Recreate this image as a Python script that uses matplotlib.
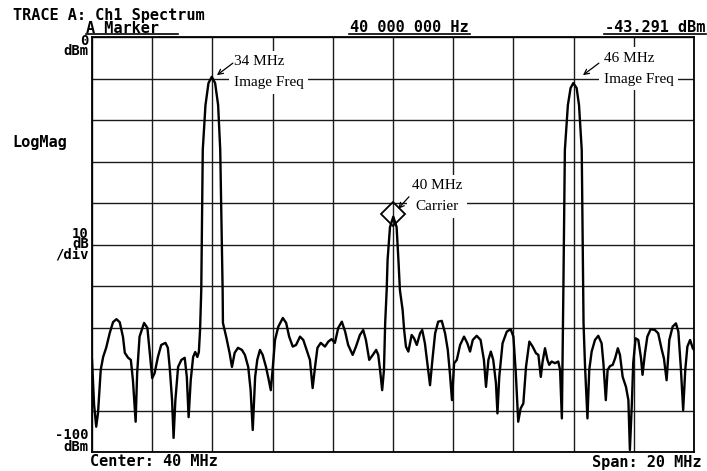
import numpy as np
import matplotlib.pyplot as plt
from matplotlib.lines import Line2D

#Spectrum analyzer trace A (MHz, dBm)
freq_mhz = [30.00, 30.03, 30.07, 30.14, 30.20, 30.29, 30.37, 30.47, 30.59, 30.70,
            30.81, 30.92, 31.03, 31.09, 31.20, 31.29, 31.36, 31.45, 31.50, 31.58,
            31.73, 31.84, 31.92, 32.00, 32.08, 32.19, 32.30, 32.44, 32.52, 32.58,
            32.66, 32.71, 32.77, 32.86, 32.97, 33.08, 33.15, 33.21, 33.28, 33.36,
            33.43, 33.50, 33.55, 33.59, 33.63, 33.68, 33.77, 33.87, 33.98, 34.09,
            34.19, 34.26, 34.34, 34.35, 34.46, 34.57, 34.65, 34.74, 34.85, 34.98,
            35.08, 35.19, 35.27, 35.34, 35.42, 35.49, 35.58, 35.67, 35.78, 35.86,
            35.94, 36.00, 36.08, 36.19, 36.34, 36.45, 36.55, 36.67, 36.78, 36.91,
            37.02, 37.13, 37.24, 37.33, 37.41, 37.49, 37.60, 37.74, 37.85, 37.96,
            38.07, 38.18, 38.30, 38.41, 38.51, 38.66, 38.77, 38.90, 39.01, 39.10,
            39.21, 39.33, 39.44, 39.51, 39.57, 39.64, 39.70, 39.74, 39.79, 39.82,
            39.90, 40.01, 40.12, 40.18, 40.23, 40.32, 40.37, 40.43, 40.51, 40.62,
            40.70, 40.79, 40.90, 40.97, 41.06, 41.14, 41.23, 41.32, 41.40, 41.50,
            41.62, 41.73, 41.82, 41.89, 41.96, 42.03, 42.12, 42.23, 42.36, 42.47,
            42.56, 42.65, 42.78, 42.91, 43.02, 43.09, 43.17, 43.25, 43.33, 43.42,
            43.47, 43.53, 43.64, 43.78, 43.91, 44.00, 44.08, 44.16, 44.24, 44.33,
            44.42, 44.53, 44.64, 44.75, 44.83, 44.91, 44.97, 45.05, 45.13, 45.19,
            45.27, 45.38, 45.49, 45.55, 45.61, 45.66, 45.71, 45.81, 45.90, 45.99,
            46.10, 46.18, 46.27, 46.32, 46.33, 46.38, 46.46, 46.52, 46.60, 46.71,
            46.82, 46.93, 46.99, 47.07, 47.13, 47.21, 47.30, 47.38, 47.47, 47.54,
            47.63, 47.74, 47.82, 47.87, 47.94, 47.98, 48.06, 48.15, 48.24, 48.29,
            48.37, 48.45, 48.56, 48.70, 48.81, 48.93, 49.00, 49.09, 49.18, 49.29,
            49.40, 49.48, 49.56, 49.64, 49.71, 49.78, 49.87, 49.96, 50.00]

level_dbm = [-77.8, -82.7, -88.7, -93.9, -90.6, -80.2, -77.1, -74.9, -71.3, -68.7,
             -68.0, -68.7, -72.3, -76.1, -77.3, -77.8, -82.7, -92.7, -81.0, -72.2,
             -68.9, -70.1, -76.1, -82.2, -81.0, -77.1, -74.2, -73.7, -74.9, -79.5,
             -87.5, -96.6, -87.5, -79.5, -77.8, -77.3, -81.9, -91.6, -82.7, -77.1,
             -75.9, -77.1, -75.9, -70.6, -61.0, -27.2, -16.4, -11.1, -9.6, -11.1,
             -16.4, -27.2, -61.0, -68.9, -72.3, -76.1, -79.5, -76.1, -74.9, -75.4,
             -76.6, -79.5, -85.1, -94.7, -81.9, -77.8, -75.4, -76.6, -79.5, -82.2,
             -85.1, -80.2, -73.0, -69.8, -67.7, -68.9, -72.2, -74.6, -74.2, -72.2,
             -73.0, -75.4, -77.8, -84.6, -79.5, -74.9, -73.7, -74.6, -73.4, -72.8,
             -73.7, -70.1, -68.6, -71.0, -74.2, -76.6, -74.6, -71.8, -70.6, -73.0,
             -77.8, -76.6, -75.4, -76.6, -80.2, -85.1, -80.2, -68.9, -61.0, -53.7,
             -45.8, -43.3, -45.8, -53.7, -61.0, -65.8, -70.6, -74.6, -75.8, -71.8,
             -72.6, -74.2, -71.4, -70.6, -73.8, -78.6, -83.9, -77.0, -71.4, -68.6,
             -68.4, -71.4, -75.4, -81.0, -87.5, -78.6, -77.8, -74.2, -72.2, -73.8,
             -75.8, -73.0, -72.0, -73.0, -77.8, -84.3, -77.8, -75.8, -77.8, -83.4,
             -90.7, -81.9, -73.8, -71.0, -70.4, -72.2, -81.0, -92.7, -89.5, -88.3,
             -79.4, -73.4, -74.6, -76.2, -76.6, -81.9, -78.2, -75.0, -77.8, -79.0,
             -78.2, -78.6, -78.2, -80.2, -91.9, -61.0, -27.2, -16.4, -12.3, -11.1,
             -12.3, -16.4, -27.2, -61.0, -68.9, -79.4, -91.9, -80.2, -75.8, -73.0,
             -72.0, -73.8, -78.6, -87.5, -80.2, -79.3, -79.0, -77.4, -75.0, -76.6,
             -81.9, -84.3, -87.5, -99.5, -87.5, -78.6, -72.6, -73.0, -77.4, -81.4,
             -76.2, -72.2, -70.4, -70.6, -71.4, -75.4, -77.4, -82.7, -73.0, -69.8,
             -69.0, -71.0, -79.4, -89.9, -80.2, -74.6, -73.0, -75.0, -75.4]

#marker readout
marker_freq = 40.0
marker_level = -43.291

center_mhz = 40
span_mhz = 20
ref_level = 0
db_per_div = 10

W, H = 707, 471
fig = plt.figure(figsize=(W/100, H/100), dpi=100)
ax = fig.add_axes([92/W, 1-452/H, (694-92)/W, (452-37)/H])

ax.plot(freq_mhz, level_dbm, color='k', lw=1.7, zorder=3)
#hollow diamond marker on the carrier
ax.plot([marker_freq], [marker_level + 0.6], marker='D', ms=12, mfc='none',
        mec='k', mew=1.3, zorder=4)

ax.set_xlim(center_mhz - span_mhz/2, center_mhz + span_mhz/2)
ax.set_ylim(ref_level - 10*db_per_div, ref_level)
ax.set_xticks(np.arange(30, 51, 2))
ax.set_yticks(np.arange(-100, 1, 10))
ax.tick_params(length=0, labelbottom=False, labelleft=False)
ax.grid(True, color='#1a1a1a', lw=1.0)
for s in ax.spines.values():
    s.set_linewidth(1.3)

#annotations in Times-like font
serif = dict(family='Liberation Serif', fontsize=11, color='k')
box = dict(boxstyle='square,pad=0.3', fc='white', ec='none')
arrow = dict(arrowstyle='->', color='k', lw=0.9, shrinkA=0, shrinkB=0,
             mutation_scale=9)

ax.text(34.72, -8.55, '34 MHz\nImage Freq', ha='left', va='center',
        linespacing=1.8, bbox=box, zorder=6, **serif)
ax.annotate('', xy=(34.15, -9.2), xytext=(34.68, -6.3), arrowprops=arrow, zorder=7)

ax.text(47.01, -7.6, '46 MHz\nImage Freq', ha='left', va='center',
        linespacing=1.8, bbox=box, zorder=6, **serif)
ax.annotate('', xy=(46.31, -9.2), xytext=(46.84, -6.3), arrowprops=arrow, zorder=7)

ax.text(41.46, -38.4, '40 MHz\nCarrier', ha='center', va='center',
        multialignment='center', linespacing=1.8, bbox=box, zorder=6, **serif)
ax.annotate('', xy=(40.17, -41.4), xytext=(40.53, -38.5), arrowprops=arrow, zorder=7)

#instrument labels
mono = dict(family='DejaVu Sans Mono', fontweight='bold', fontsize=11, color='k')
small = dict(family='DejaVu Sans Mono', fontweight='bold', fontsize=10, color='k')

def fx(x):
    return x / W

def fy(y):
    return 1 - y / H

fig.text(fx(13), fy(22), 'TRACE A: Ch1 Spectrum\n        A Marker', va='center',
         linespacing=0.8, **mono)
t_hz = fig.text(fx(350), fy(28), '%d %03d %03d Hz' % (marker_freq, 0, 0),
                va='center', **mono)
t_db = fig.text(fx(705), fy(28), '%.3f dBm' % marker_level, ha='right',
                va='center', **mono)

#underline the marker readout row
fig.canvas.draw()
r = fig.canvas.get_renderer()
segs = [(86, 178)]
for t in (t_hz, t_db):
    bb = t.get_window_extent(renderer=r)
    segs.append((bb.x0 - 1, bb.x1 + 1))
for x0, x1 in segs:
    fig.add_artist(Line2D([fx(x0), fx(x1)], [fy(33.5), fy(33.5)], color='k', lw=1.2))

fig.text(fx(89), fy(46), '0\ndBm', ha='right', va='center', multialignment='right',
         linespacing=0.7, **small)
fig.text(fx(12), fy(143), 'LogMag', ha='left', va='center', **mono)
fig.text(fx(89), fy(244), '10\ndB\n/div', ha='right', va='center',
         multialignment='right', linespacing=0.68, **small)
fig.text(fx(89), fy(441), '-100\ndBm', ha='right', va='center',
         multialignment='right', linespacing=0.85, **small)

fig.text(fx(90), fy(462), 'Center: %d MHz' % center_mhz, va='center', **mono)
fig.text(fx(702), fy(462), 'Span: %d MHz' % span_mhz, ha='right', va='center', **mono)

fig.savefig('out.png', dpi=100)
